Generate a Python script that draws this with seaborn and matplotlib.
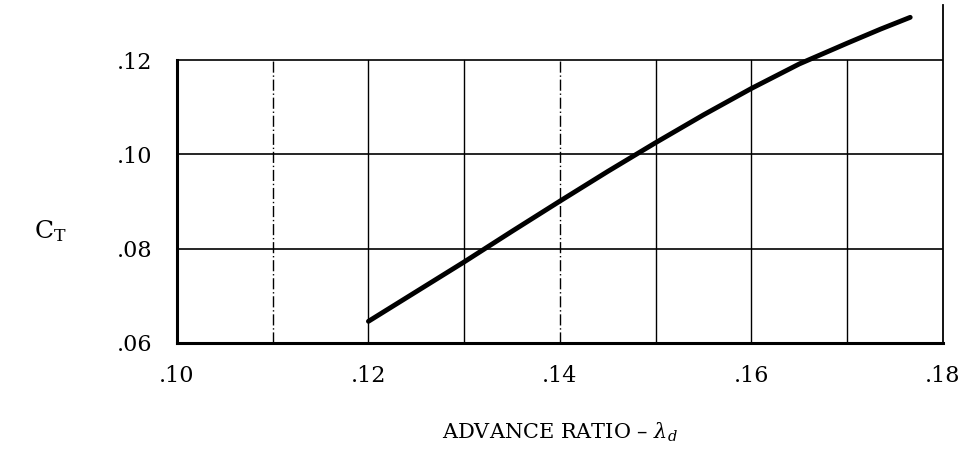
import matplotlib
matplotlib.use("Agg")
import matplotlib.pyplot as plt
import seaborn as sns
import pandas as pd

# Data
advance_ratio = [0.120, 0.125, 0.130, 0.135, 0.140, 0.145, 0.150, 0.155, 0.160, 0.165, 0.170, 0.1735, 0.1766]
thrust_coef = [0.0646, 0.0709, 0.0772, 0.0837, 0.0901, 0.0964, 0.1025, 0.1084, 0.1140, 0.1192, 0.1236, 0.1266, 0.1291]

xticks = [0.10, 0.12, 0.14, 0.16, 0.18]
xtick_labels = [".10", ".12", ".14", ".16", ".18"]
yticks = [0.06, 0.08, 0.10, 0.12]
ytick_labels = [".06", ".08", ".10", ".12"]
x_grid = [0.11, 0.12, 0.13, 0.14, 0.15, 0.16, 0.17]
y_grid = [0.08, 0.10, 0.12]

df = pd.DataFrame({"lam": advance_ratio, "ct": thrust_coef})

sns.set_style("white")
plt.rcParams["font.family"] = ["DejaVu Serif"]
plt.rcParams["mathtext.fontset"] = "dejavuserif"
plt.rcParams["text.color"] = "black"
plt.rcParams["axes.labelcolor"] = "black"
plt.rcParams["xtick.color"] = "black"
plt.rcParams["ytick.color"] = "black"

fig = plt.figure(figsize=(9.62, 4.62), dpi=100)
ax = fig.add_axes([0.184, 0.2576, 0.796, 0.7314])

ax.set_xlim(0.10, 0.18)
ax.set_ylim(0.06, 0.1317)

for xv in x_grid:
    ls = (0, (8, 2, 1, 2)) if xv in (0.11, 0.14) else "-"
    ax.plot([xv, xv], [0.06, 0.12], color="black", lw=1.0, ls=ls, zorder=1)
for yv in y_grid:
    ax.plot([0.10, 0.18], [yv, yv], color="black", lw=1.2, zorder=1)

sns.lineplot(data=df, x="lam", y="ct", ax=ax, color="black", lw=3.5,
             estimator=None, sort=True, zorder=3)

ax.spines["top"].set_visible(False)
ax.spines["left"].set_bounds(0.06, 0.12)
for s in ("left", "bottom"):
    ax.spines[s].set_linewidth(2.2)
    ax.spines[s].set_color("black")
ax.spines["right"].set_linewidth(1.3)
ax.spines["right"].set_color("black")

ax.set_xticks(xticks)
ax.set_xticklabels(xtick_labels, fontsize=16)
ax.set_yticks(yticks)
ax.set_yticklabels(ytick_labels, fontsize=16)
ax.tick_params(axis="x", length=0, pad=16)
ax.tick_params(axis="y", length=0, pad=18)

ax.set_xlabel("ADVANCE RATIO \u2013 $\\lambda_d$", fontsize=15, labelpad=24)
ax.set_ylabel("C$_\\mathregular{T}$", fontsize=18, rotation=0, va="center")
ax.yaxis.set_label_coords(-0.165, 0.33)

fig.savefig("out.png", dpi=100)
